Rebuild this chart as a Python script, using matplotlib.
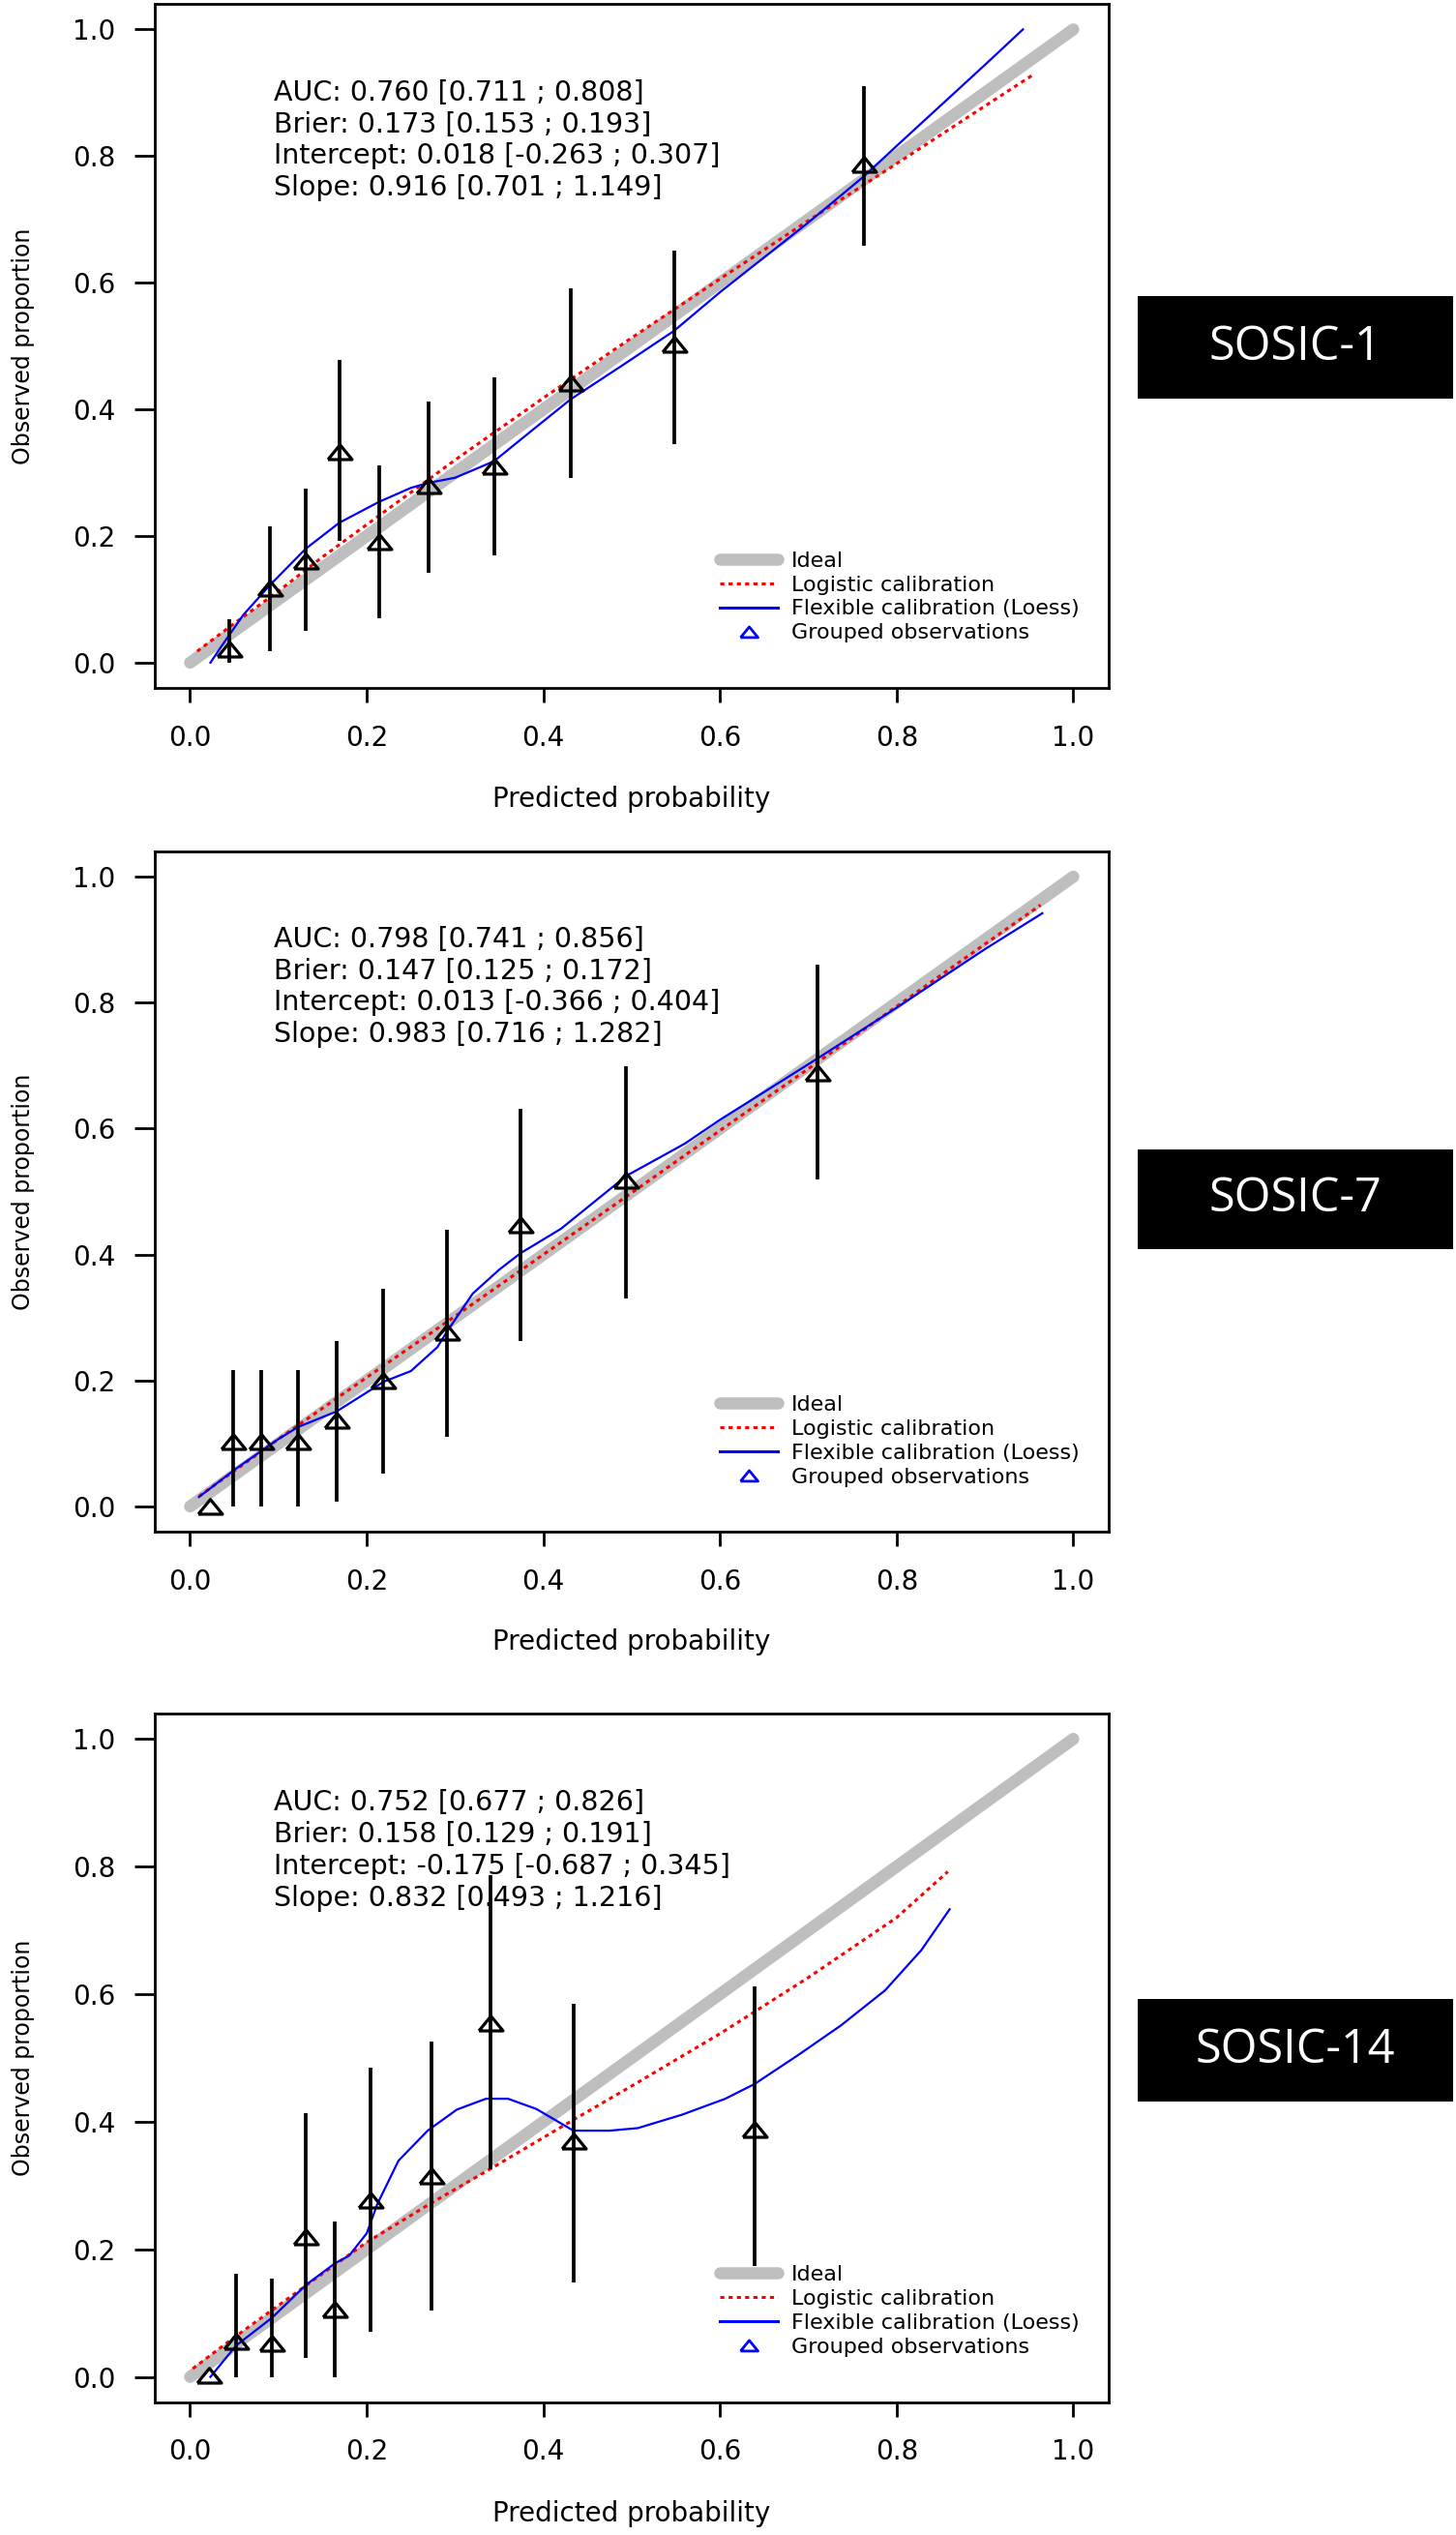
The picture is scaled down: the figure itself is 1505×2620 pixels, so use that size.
import matplotlib
matplotlib.use('Agg')
import matplotlib.pyplot as plt
from matplotlib.lines import Line2D
from matplotlib.patches import Rectangle

C_GRAY = '#BEBEBE'
C_RED = '#FF0000'
C_BLUE = '#0000FF'
C_DARK = '#000000'

# ── panel names and stats text ──────────────────────────────────
panel_names = ['SOSIC-1', 'SOSIC-7', 'SOSIC-14']
stats_text = [
    ['AUC: 0.760 [0.711 ; 0.808]', 'Brier: 0.173 [0.153 ; 0.193]',
     'Intercept: 0.018 [-0.263 ; 0.307]', 'Slope: 0.916 [0.701 ; 1.149]'],
    ['AUC: 0.798 [0.741 ; 0.856]', 'Brier: 0.147 [0.125 ; 0.172]',
     'Intercept: 0.013 [-0.366 ; 0.404]', 'Slope: 0.983 [0.716 ; 1.282]'],
    ['AUC: 0.752 [0.677 ; 0.826]', 'Brier: 0.158 [0.129 ; 0.191]',
     'Intercept: -0.175 [-0.687 ; 0.345]', 'Slope: 0.832 [0.493 ; 1.216]'],
]
legend_labels = ['Ideal', 'Logistic calibration',
                 'Flexible calibration (Loess)', 'Grouped observations']

ideal_x = [0.0, 1.0]
ideal_y = [0.0, 1.0]

# ── SOSIC-1 ─────────────────────────────────────────────────────
s1_grp_x = [0.044, 0.090, 0.131, 0.169, 0.214, 0.270, 0.344, 0.431, 0.548, 0.763]
s1_grp_y = [0.021, 0.118, 0.161, 0.333, 0.191, 0.279, 0.310, 0.442, 0.502, 0.787]
s1_lo    = [0.000, 0.018, 0.050, 0.192, 0.070, 0.142, 0.169, 0.292, 0.345, 0.659]
s1_hi    = [0.068, 0.215, 0.275, 0.478, 0.311, 0.413, 0.451, 0.591, 0.651, 0.911]
s1_log_x = [0.008, 0.05, 0.1, 0.15, 0.2, 0.3, 0.4, 0.5, 0.6, 0.7, 0.8, 0.9, 0.953]
s1_log_y = [0.018, 0.062, 0.113, 0.167, 0.218, 0.320, 0.418, 0.513, 0.606, 0.698, 0.788, 0.879, 0.927]
s1_loe_x = [0.023, 0.04, 0.06, 0.09, 0.131, 0.169, 0.214, 0.25, 0.27, 0.30, 0.344, 0.39,
            0.431, 0.49, 0.548, 0.6, 0.65, 0.7, 0.763, 0.8, 0.85, 0.9, 0.943]
s1_loe_y = [0.0, 0.035, 0.075, 0.122, 0.180, 0.221, 0.254, 0.276, 0.284, 0.292, 0.318, 0.370,
            0.416, 0.470, 0.524, 0.585, 0.640, 0.695, 0.768, 0.816, 0.880, 0.944, 1.0]

# ── SOSIC-7 ─────────────────────────────────────────────────────
s7_grp_x = [0.022, 0.049, 0.0805, 0.122, 0.166, 0.219, 0.291, 0.374, 0.494, 0.710]
s7_grp_y = [0.000, 0.103, 0.103, 0.103, 0.137, 0.200, 0.277, 0.447, 0.518, 0.688]
s7_lo    = [0.000, 0.000, 0.000, 0.000, 0.008, 0.052, 0.110, 0.263, 0.331, 0.519]
s7_hi    = [0.000, 0.216, 0.216, 0.216, 0.263, 0.345, 0.440, 0.631, 0.699, 0.860]
s7_log_x = [0.01, 0.1, 0.2, 0.3, 0.4, 0.5, 0.6, 0.7, 0.8, 0.9, 0.963]
s7_log_y = [0.016, 0.107, 0.205, 0.302, 0.400, 0.498, 0.597, 0.695, 0.794, 0.893, 0.955]
s7_loe_x = [0.01, 0.05, 0.1, 0.122, 0.166, 0.2, 0.219, 0.25, 0.28, 0.291, 0.32, 0.35,
            0.374, 0.42, 0.494, 0.56, 0.6, 0.71, 0.8, 0.9, 0.965]
s7_loe_y = [0.015, 0.058, 0.107, 0.126, 0.151, 0.181, 0.198, 0.215, 0.253, 0.278, 0.338, 0.376,
            0.402, 0.441, 0.525, 0.576, 0.614, 0.711, 0.792, 0.885, 0.942]

# ── SOSIC-14 ────────────────────────────────────────────────────
s14_grp_x = [0.021, 0.052, 0.093, 0.131, 0.164, 0.204, 0.273, 0.340, 0.434, 0.639]
s14_grp_y = [0.003, 0.055, 0.053, 0.220, 0.106, 0.277, 0.315, 0.555, 0.369, 0.388]
s14_lo    = [0.003, 0.000, 0.000, 0.030, 0.000, 0.071, 0.104, 0.326, 0.148, 0.174]
s14_hi    = [0.003, 0.161, 0.154, 0.413, 0.243, 0.485, 0.525, 0.786, 0.585, 0.612]
s14_log_x = [0.003, 0.05, 0.1, 0.15, 0.2, 0.27, 0.34, 0.434, 0.5, 0.6, 0.7, 0.8, 0.858]
s14_log_y = [0.013, 0.062, 0.112, 0.162, 0.211, 0.270, 0.326, 0.403, 0.456, 0.538, 0.626, 0.720, 0.792]
s14_loe_x = [0.023, 0.052, 0.093, 0.131, 0.164, 0.18, 0.2, 0.212, 0.236, 0.269, 0.302, 0.335,
             0.36, 0.392, 0.434, 0.475, 0.507, 0.557, 0.606, 0.639, 0.688, 0.737, 0.787,
             0.828, 0.86]
s14_loe_y = [0.0, 0.049, 0.093, 0.144, 0.178, 0.190, 0.225, 0.271, 0.339, 0.386, 0.419, 0.436,
             0.436, 0.420, 0.386, 0.386, 0.390, 0.411, 0.436, 0.459, 0.504, 0.551, 0.606,
             0.669, 0.733]

ticks = [0.0, 0.2, 0.4, 0.6, 0.8, 1.0]
tick_labels = ['0.0', '0.2', '0.4', '0.6', '0.8', '1.0']

# wide open triangle (R pch=2, image is stretched sideways)
TRI = [(-1.0, -0.6), (1.0, -0.6), (0.0, 0.62), (-1.0, -0.6)]

panels = [
    (s1_grp_x, s1_grp_y, s1_lo, s1_hi, s1_log_x, s1_log_y, s1_loe_x, s1_loe_y),
    (s7_grp_x, s7_grp_y, s7_lo, s7_hi, s7_log_x, s7_log_y, s7_loe_x, s7_loe_y),
    (s14_grp_x, s14_grp_y, s14_lo, s14_hi, s14_log_x, s14_log_y, s14_loe_x, s14_loe_y),
]
# axes rects in figure fractions [left, bottom, width, height]
rects = [
    [0.1063, 0.7286, 0.6551, 0.2698],
    [0.1063, 0.3958, 0.6551, 0.2683],
    [0.1063, 0.0523, 0.6551, 0.2718],
]
# label boxes (figure fractions) [left, bottom, width, height]
label_boxes = [
    [0.7814, 0.8427, 0.2166, 0.0405],
    [0.7814, 0.5073, 0.2166, 0.0393],
    [0.7814, 0.1710, 0.2166, 0.0405],
]

plt.rcParams['font.family'] = ['DejaVu Sans']

fig = plt.figure(figsize=(15.05, 26.2), dpi=100, facecolor='white')


def draw_panel(ax, data, stats):
    gx, gy, lo, hi, lx, ly, fx, fy = data
    ax.plot(ideal_x, ideal_y, color=C_GRAY, lw=9,
            solid_capstyle='round', zorder=2)
    ax.plot(lx, ly, color=C_RED, lw=2.2, ls=(0, (1.4, 1.4)), zorder=3)
    ax.plot(fx, fy, color=C_BLUE, lw=1.6, zorder=4)
    ax.vlines(gx, lo, hi, color=C_DARK, lw=2.7, zorder=5)
    ax.plot(gx, gy, ls='none', marker=TRI, ms=18, mfc='none',
            mec=C_DARK, mew=2.3, zorder=6)

    for i, line in enumerate(stats):
        ax.text(0.095, 0.90 - 0.05 * i, line, fontsize=20.5,
                va='center', ha='left', color=C_DARK, zorder=1)

    ax.set_xlim(-0.04, 1.04)
    ax.set_ylim(-0.04, 1.04)
    ax.set_xticks(ticks)
    ax.set_xticklabels(tick_labels)
    ax.set_yticks(ticks)
    ax.set_yticklabels(tick_labels)
    ax.tick_params(axis='x', length=11, width=2, pad=16, labelsize=20)
    ax.tick_params(axis='y', length=15, width=2, pad=14, labelsize=20)
    for sp in ax.spines.values():
        sp.set_linewidth(2)

    ax.set_xlabel('Predicted probability', fontsize=20)
    ax.xaxis.label.set_va('center')
    ax.xaxis.set_label_coords(0.5, -0.162)
    ax.set_ylabel('Observed proportion', fontsize=17)
    ax.yaxis.label.set_va('center')
    ax.yaxis.set_label_coords(-0.138, 0.5)

    handles = [
        Line2D([], [], color=C_GRAY, lw=9, solid_capstyle='round'),
        Line2D([], [], color=C_RED, lw=2.2, ls=(0, (1.4, 1.4))),
        Line2D([], [], color=C_BLUE, lw=2.2),
        Line2D([], [], color=C_BLUE, ls='none', marker=TRI, ms=13,
               mfc='none', mew=2),
    ]
    ax.legend(handles, legend_labels, loc='center left',
              bbox_to_anchor=(0.592, 0.133), frameon=False, fontsize=16,
              handlelength=2.7, handletextpad=0.65, labelspacing=0.22,
              borderpad=0, borderaxespad=0)


for data, stats, rect, name, box in zip(panels, stats_text, rects,
                                          panel_names, label_boxes):
    ax = fig.add_axes(rect)
    draw_panel(ax, data, stats)

    fig.patches.append(Rectangle((box[0], box[1]), box[2], box[3],
                                 transform=fig.transFigure,
                                 facecolor='black', edgecolor='none'))
    fig.text(box[0] + box[2] / 2, box[1] + box[3] / 2, name,
             color='white', fontsize=35, family='Open Sans',
             ha='center', va='center')

plt.savefig('out.png', dpi=100, facecolor='white')
